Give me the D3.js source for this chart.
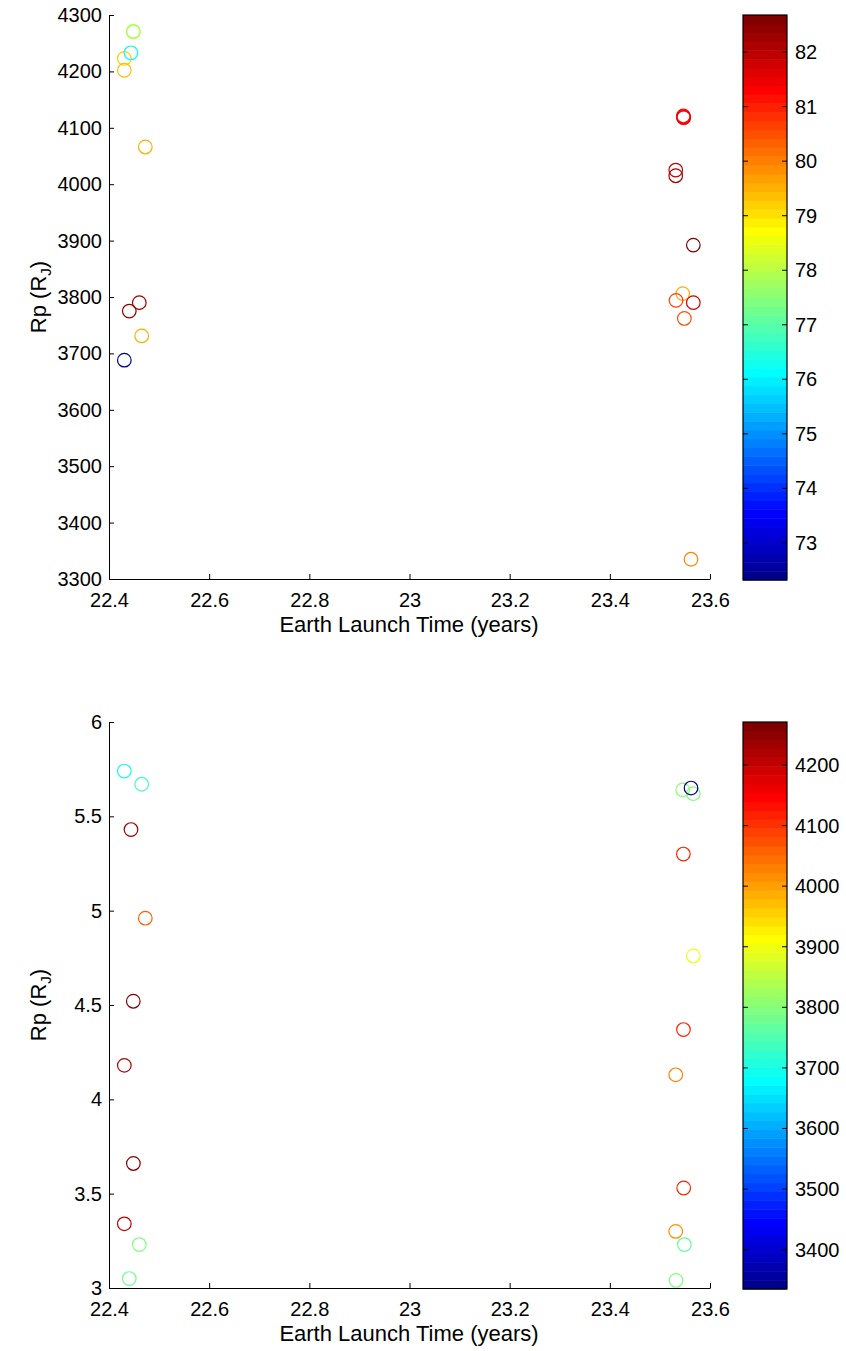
<!DOCTYPE html>
<html>
<head>
<meta charset="utf-8">
<script src="https://cdn.jsdelivr.net/npm/d3@7"></script>
<style>
  body { margin: 0; background: #fff; }
  text { font-family: "Liberation Sans", Arial, sans-serif; font-size: 20px; fill: #000; }
  .axis path, .axis line { stroke: #000; stroke-width: 1; }
  .label { font-size: 22px; }
</style>
</head>
<body>
<div id="chart"></div>
<script>

// data: one entry per launch case
var launchYears = [22.4306, 22.4306, 22.4306, 22.4405, 22.4439, 22.4485, 22.4487, 22.4605, 22.4653, 22.4725,
                   23.5468, 23.5470, 23.5475, 23.5316, 23.5316, 23.5667, 23.5456, 23.5322, 23.5667, 23.5488, 23.5621];
// top panel y values (also the colour of the bottom panel)
var rpTopPanel = [3688, 4223, 4202, 3775, 4233, 4271, 4270, 3790, 3731, 4066,
                  4121, 4119, 4118, 4025, 4015, 3892, 3806, 3794, 3790, 3762, 3335];
// top panel colour values
var colourTopPanel = [72.32, 79.2, 79.3, 82.5, 76.1, 77.9, 77.9, 82.3, 79.6, 79.5,
                      81.35, 81.3, 81.4, 82.0, 82.1, 82.68, 79.6, 80.6, 81.8, 80.5, 80.0];
// bottom panel y values
var rpBottomPanel = [5.74, 4.18, 3.34, 3.05, 5.43, 4.52, 3.66, 3.23, 5.67, 4.96,
                     5.30, 4.37, 3.53, 4.13, 3.30, 4.76, 5.64, 3.04, 5.62, 3.23, 5.65];

var xTicks = [22.4, 22.6, 22.8, 23, 23.2, 23.4, 23.6];
var topYTicks = [3300, 3400, 3500, 3600, 3700, 3800, 3900, 4000, 4100, 4200, 4300];
var bottomYTicks = [3, 3.5, 4, 4.5, 5, 5.5, 6];
var topColourTicks = [73, 74, 75, 76, 77, 78, 79, 80, 81, 82];
var bottomColourTicks = [3400, 3500, 3600, 3700, 3800, 3900, 4000, 4100, 4200];

var points = launchYears.map(function(d, i) {
    return {t: d, a: rpTopPanel[i], c: colourTopPanel[i], b: rpBottomPanel[i]};
});

// MATLAB style jet colormap with m levels
function jet(m) {
    var n = Math.ceil(m / 4);
    var u = [], i;
    for (i = 1; i <= n; i++) u.push(i / n);
    for (i = 1; i < n; i++) u.push(1);
    for (i = n; i >= 1; i--) u.push(i / n);
    var g0 = Math.ceil(n / 2) - (m % 4 === 1 ? 1 : 0);
    var J = d3.range(m).map(function() { return [0, 0, 0]; });
    u.forEach(function(v, k) {
        var g = g0 + k + 1, r = g + n, b = g - n;
        if (r >= 1 && r <= m) J[r - 1][0] = v;
        if (g >= 1 && g <= m) J[g - 1][1] = v;
        if (b >= 1 && b <= m) J[b - 1][2] = v;
    });
    return J.map(function(c) {
        return d3.rgb(Math.round(c[0] * 255), Math.round(c[1] * 255), Math.round(c[2] * 255)).toString();
    });
}
var cmap = jet(64);

function colourOf(v, lo, hi) {
    var idx = Math.floor((v - lo) / (hi - lo) * cmap.length);
    idx = Math.max(0, Math.min(cmap.length - 1, idx));
    return cmap[idx];
}

var width = 846, height = 1351;
var svg = d3.select("#chart").append("svg")
    .attr("width", width)
    .attr("height", height);

var x = d3.scaleLinear().domain([22.4, 23.6]).range([109, 710]);

function drawPanel(opts) {
    var y = d3.scaleLinear().domain(opts.yDomain).range([opts.bottom, opts.top]);
    var lo = d3.min(opts.colourValues), hi = d3.max(opts.colourValues);

    // x axis, ticks pointing inward
    var gx = svg.append("g")
        .attr("class", "axis")
        .attr("transform", "translate(0," + opts.bottom + ")")
        .call(d3.axisBottom(x).tickValues(xTicks).tickSizeInner(-5).tickSizeOuter(0)
            .tickFormat(d3.format("")));
    gx.selectAll("text").attr("y", 14).attr("dy", "0.71em").style("font-size", "20px");

    // y axis
    var gy = svg.append("g")
        .attr("class", "axis")
        .attr("transform", "translate(109,0)")
        .call(d3.axisLeft(y).tickValues(opts.yTicks).tickSizeInner(-5).tickSizeOuter(0)
            .tickFormat(d3.format("")));
    gy.selectAll("text").attr("x", -7).style("font-size", "20px");

    // axis labels
    svg.append("text")
        .attr("class", "label")
        .attr("x", 409)
        .attr("y", opts.bottom + 53)
        .attr("text-anchor", "middle")
        .text("Earth Launch Time (years)");

    var yl = svg.append("text")
        .attr("class", "label")
        .attr("transform", "translate(46," + ((opts.top + opts.bottom) / 2) + ") rotate(-90)")
        .attr("text-anchor", "middle");
    yl.append("tspan").text("Rp (R");
    yl.append("tspan").attr("dy", 5).style("font-size", "15px").text("J");
    yl.append("tspan").attr("dy", -5).text(")");

    // scatter
    svg.append("g").selectAll("circle")
        .data(points)
        .enter()
        .append("circle")
        .attr("cx", function(d) { return x(d.t); })
        .attr("cy", function(d) { return y(opts.yOf(d)); })
        .attr("r", 6.8)
        .style("fill", "none")
        .style("stroke-width", 1.2)
        .style("stroke", function(d) { return colourOf(opts.colourOf(d), lo, hi); });

    // colorbar
    var cy = d3.scaleLinear().domain([lo, hi]).range([opts.bottom + 1, opts.top]);
    var cb = svg.append("g");
    var step = (hi - lo) / cmap.length;
    cb.selectAll("rect.band")
        .data(cmap)
        .enter()
        .append("rect")
        .attr("class", "band")
        .attr("x", 743)
        .attr("width", 44)
        .attr("y", function(d, i) { return cy(lo + (i + 1) * step); })
        .attr("height", function(d, i) { return cy(lo + i * step) - cy(lo + (i + 1) * step) + 0.5; })
        .style("fill", function(d) { return d; });

    cb.append("rect")
        .attr("x", 743)
        .attr("y", opts.top)
        .attr("width", 44)
        .attr("height", opts.bottom + 1 - opts.top)
        .style("fill", "none")
        .style("stroke", "#000")
        .style("stroke-width", 1.2);

    var ticks = cb.selectAll("g.ctick")
        .data(opts.colourTicks)
        .enter()
        .append("g")
        .attr("class", "ctick")
        .attr("transform", function(d) { return "translate(0," + cy(d) + ")"; });
    ticks.append("line").attr("x1", 743).attr("x2", 748).style("stroke", "#000");
    ticks.append("line").attr("x1", 782).attr("x2", 787).style("stroke", "#000");
    ticks.append("text")
        .attr("x", 795)
        .attr("dy", "0.35em")
        .text(function(d) { return d; });
}

drawPanel({
    top: 15, bottom: 579,
    yDomain: [3300, 4300], yTicks: topYTicks,
    yOf: function(d) { return d.a; },
    colourOf: function(d) { return d.c; },
    colourValues: colourTopPanel,
    colourTicks: topColourTicks
});

drawPanel({
    top: 722, bottom: 1288,
    yDomain: [3, 6], yTicks: bottomYTicks,
    yOf: function(d) { return d.b; },
    colourOf: function(d) { return d.a; },
    colourValues: rpTopPanel,
    colourTicks: bottomColourTicks
});

</script>
</body>
</html>
